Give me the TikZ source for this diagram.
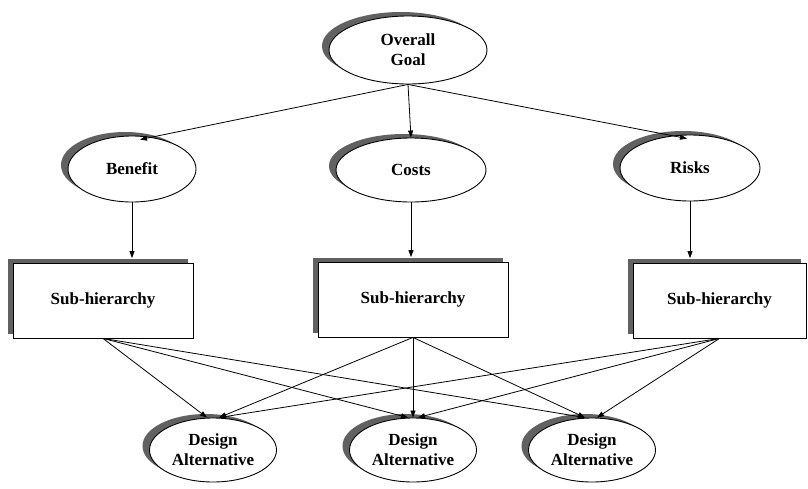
\documentclass[tikz,border=0pt]{standalone}
\usepackage{fontspec}
\setmainfont{Liberation Serif}
\usetikzlibrary{arrows.meta,shapes.geometric,shadows}

\tikzset{
  shadetone/.style={fill=black!62, draw=none},
  oval/.style={ellipse, draw=black, line width=0.9pt, fill=white, inner sep=0pt,
    align=center, font=\bfseries\fontsize{17}{20}\selectfont,
    general shadow={shadow xshift=-7pt, shadow yshift=4pt, shadetone}},
  subbox/.style={rectangle, draw=black, line width=0.8pt, fill=white, inner sep=0pt,
    minimum height=75pt, align=center, font=\bfseries\fontsize{17}{20}\selectfont,
    general shadow={shadow xshift=-5pt, shadow yshift=4.5pt, shadetone}},
  link/.style={draw=black, line width=0.8pt, -{Triangle[length=7pt,width=5pt]}}
}

\begin{document}
\begin{tikzpicture}[x=1pt, y=-1pt]
  \useasboundingbox (0,0) rectangle (808,488);

  % top goal
  \node[oval, minimum width=158pt, minimum height=68pt] (goal) at (408,50) {Overall\\Goal};

  % criteria
  \node[oval, minimum width=128pt, minimum height=66pt] (benefit) at (132,169) {Benefit};
  \node[oval, minimum width=150pt, minimum height=64pt] (costs) at (411,170) {Costs};
  \node[oval, minimum width=140pt, minimum height=66pt] (risks) at (690,168) {Risks};

  % sub-hierarchies
  \node[subbox, minimum width=180pt] (sub1) at (103,300.5) {Sub-hierarchy};
  \node[subbox, minimum width=190pt] (sub2) at (413,299.5) {Sub-hierarchy};
  \node[subbox, minimum width=173pt] (sub3) at (719.5,300.5) {Sub-hierarchy};

  % alternatives
  \node[oval, minimum width=127pt, minimum height=64pt] (alt1) at (213,450) {Design\\Alternative};
  \node[oval, minimum width=127pt, minimum height=64pt] (alt2) at (413,450) {Design\\Alternative};
  \node[oval, minimum width=127pt, minimum height=64pt] (alt3) at (592,450) {Design\\Alternative};

  % goal to criteria
  \draw[link] (goal.south) -- ([xshift=8pt,yshift=-4pt]benefit.north);
  \draw[link] (goal.south) -- (costs.north);
  \draw[link] (goal.south) -- ([xshift=-3pt,yshift=-4pt]risks.north);

  % criteria to sub-hierarchies
  \draw[link] (benefit.south) -- ([yshift=4.5pt]benefit.south |- sub1.north);
  \draw[link] (costs.south) -- ([yshift=4.5pt]costs.south |- sub2.north);
  \draw[link] (risks.south) -- ([yshift=4.5pt]risks.south |- sub3.north);

  % sub-hierarchies to alternatives
  \draw[link] (sub1.south) -- ([xshift=-6pt]alt1.north);
  \draw[link] (sub1.south) -- ([xshift=-5pt]alt2.north);
  \draw[link] (sub1.south) -- ([xshift=-7pt]alt3.north);
  \draw[link] (sub2.south) -- ([xshift=6pt]alt1.north);
  \draw[link] (sub2.south) -- (alt2.north);
  \draw[link] (sub2.south) -- ([xshift=-7pt]alt3.north);
  \draw[link] (sub3.south) -- ([xshift=6pt]alt1.north);
  \draw[link] (sub3.south) -- ([xshift=5pt]alt2.north);
  \draw[link] (sub3.south) -- ([xshift=5pt]alt3.north);
\end{tikzpicture}
\end{document}
